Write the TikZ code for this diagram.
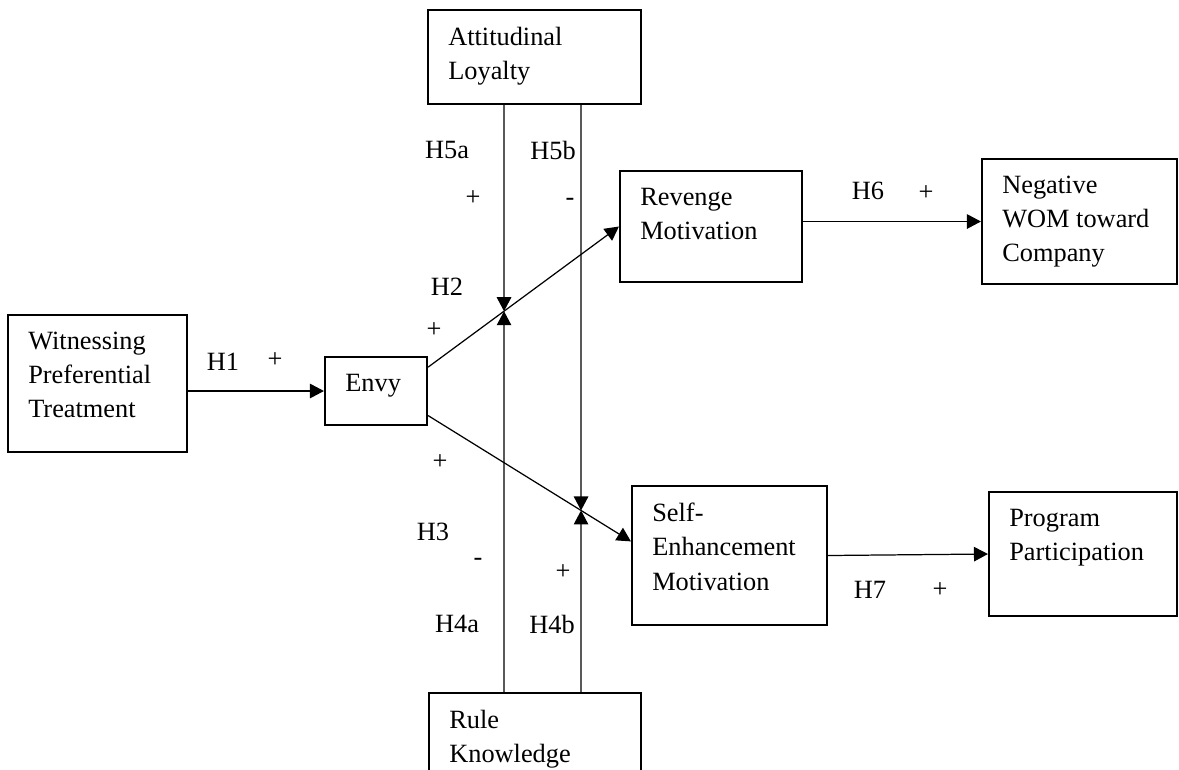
\documentclass[tikz,border=0pt]{standalone}
\usepackage{fontspec}
\setmainfont{Liberation Serif}
\usetikzlibrary{arrows.meta, fit, calc}

\begin{document}
\begin{tikzpicture}[
    x=0.02cm, y=-0.02cm,
    box/.style={rectangle, draw, line width=1.2pt, inner sep=0pt},
    boxtext/.style={anchor=north west, align=left, inner sep=0pt, font=\fontsize{15pt}{19.4pt}\selectfont},
    arrow/.style={-{Triangle[length=0.28cm, width=0.29cm]}, line width=0.7pt},
    hyp/.style={inner sep=0pt, font=\fontsize{15pt}{18pt}\selectfont}
]

\clip (0,0) rectangle (1179,769);

% Boxes (corners)
\node[box, fit={(428,10)(641,104)}] (att) {};
\node[box, fit={(8,315)(187,452)}] (wit) {};
\node[box, fit={(325,357)(427,425)}] (envy) {};
\node[box, fit={(620,171)(802,282)}] (rev) {};
\node[box, fit={(982,159)(1177,284)}] (neg) {};
\node[box, fit={(632,486)(827,625)}] (self) {};
\node[box, fit={(989,492)(1177,616)}] (prog) {};
\node[box, fit={(429,693)(641,800)}] (rule) {};

% Box texts, top left in each box
\node[boxtext] (atttxt) at ([shift={(21,18)}]att.north west) {Attitudinal\\Loyalty};
\node[boxtext] (wittxt) at ([shift={(21,18)}]wit.north west) {Witnessing\\Preferential\\Treatment};
\node[boxtext] (envytxt) at ([shift={(21,18)}]envy.north west) {Envy};
\node[boxtext] (revtxt) at ([shift={(21,18)}]rev.north west) {Revenge\\Motivation};
\node[boxtext] (negtxt) at ([shift={(21,18)}]neg.north west) {Negative\\WOM toward\\Company};
\node[boxtext] (selftxt) at ([shift={(21,18)}]self.north west) {Self-\\Enhancement\\Motivation};
\node[boxtext] (progtxt) at ([shift={(21,18)}]prog.north west) {Program\\Participation};
\node[boxtext] (ruletxt) at ([shift={(21,18)}]rule.north west) {Rule\\Knowledge};

% Main paths
\coordinate (envyhi) at ($(envy.north east)!0.16!(envy.south east)$);
\coordinate (envylo) at ($(envy.north east)!0.85!(envy.south east)$);
\coordinate (selfin) at ($(self.north west)!0.4!(self.south west)$);

\draw[arrow] (wit.east |- envy.west) -- (envy.west);
\draw[arrow] (envyhi) -- (rev.west);
\draw[arrow] (envylo) -- (selfin);
\draw[arrow] (rev.east |- neg.west) -- (neg.west);
\draw[arrow] (self.east) -- (prog.west);

% Moderator lines
\coordinate (atta) at (504,0 |- att.south);
\coordinate (attb) at (581,0 |- att.south);
\coordinate (rulea) at (504,0 |- rule.north);
\coordinate (ruleb) at (581,0 |- rule.north);
\coordinate (moda) at (intersection of envyhi--rev.west and atta--rulea);
\coordinate (modb) at (intersection of envylo--selfin and attb--ruleb);

\draw[arrow] (atta) -- (moda);
\draw[arrow] (rulea) -- (moda);
\draw[arrow] (attb) -- (modb);
\draw[arrow] (ruleb) -- (modb);

% Hypothesis labels and signs
\node[hyp] (h1) at (223,362) {H1};
\node[hyp] (h1s) at (275,360) {+};
\node[hyp] (h2) at (447,287) {H2};
\node[hyp] (h2s) at (434,330) {+};
\node[hyp] (h3s) at (440,462) {+};
\node[hyp] (h3) at (433,532) {H3};
\node[hyp] (h5a) at (447,150) {H5a};
\node[hyp] (h5as) at (473,198) {+};
\node[hyp] (h5b) at (553,150) {H5b};
\node[hyp] (h5bs) at (570,202) {-};
\node[hyp] (h4as) at (478,562) {-};
\node[hyp] (h4bs) at (563,572) {+};
\node[hyp] (h4a) at (457,624) {H4a};
\node[hyp] (h4b) at (552,624) {H4b};
\node[hyp] (h6) at (868,191) {H6};
\node[hyp] (h6s) at (926,193) {+};
\node[hyp] (h7) at (870,590) {H7};
\node[hyp] (h7s) at (940,590) {+};

\end{tikzpicture}
\end{document}
